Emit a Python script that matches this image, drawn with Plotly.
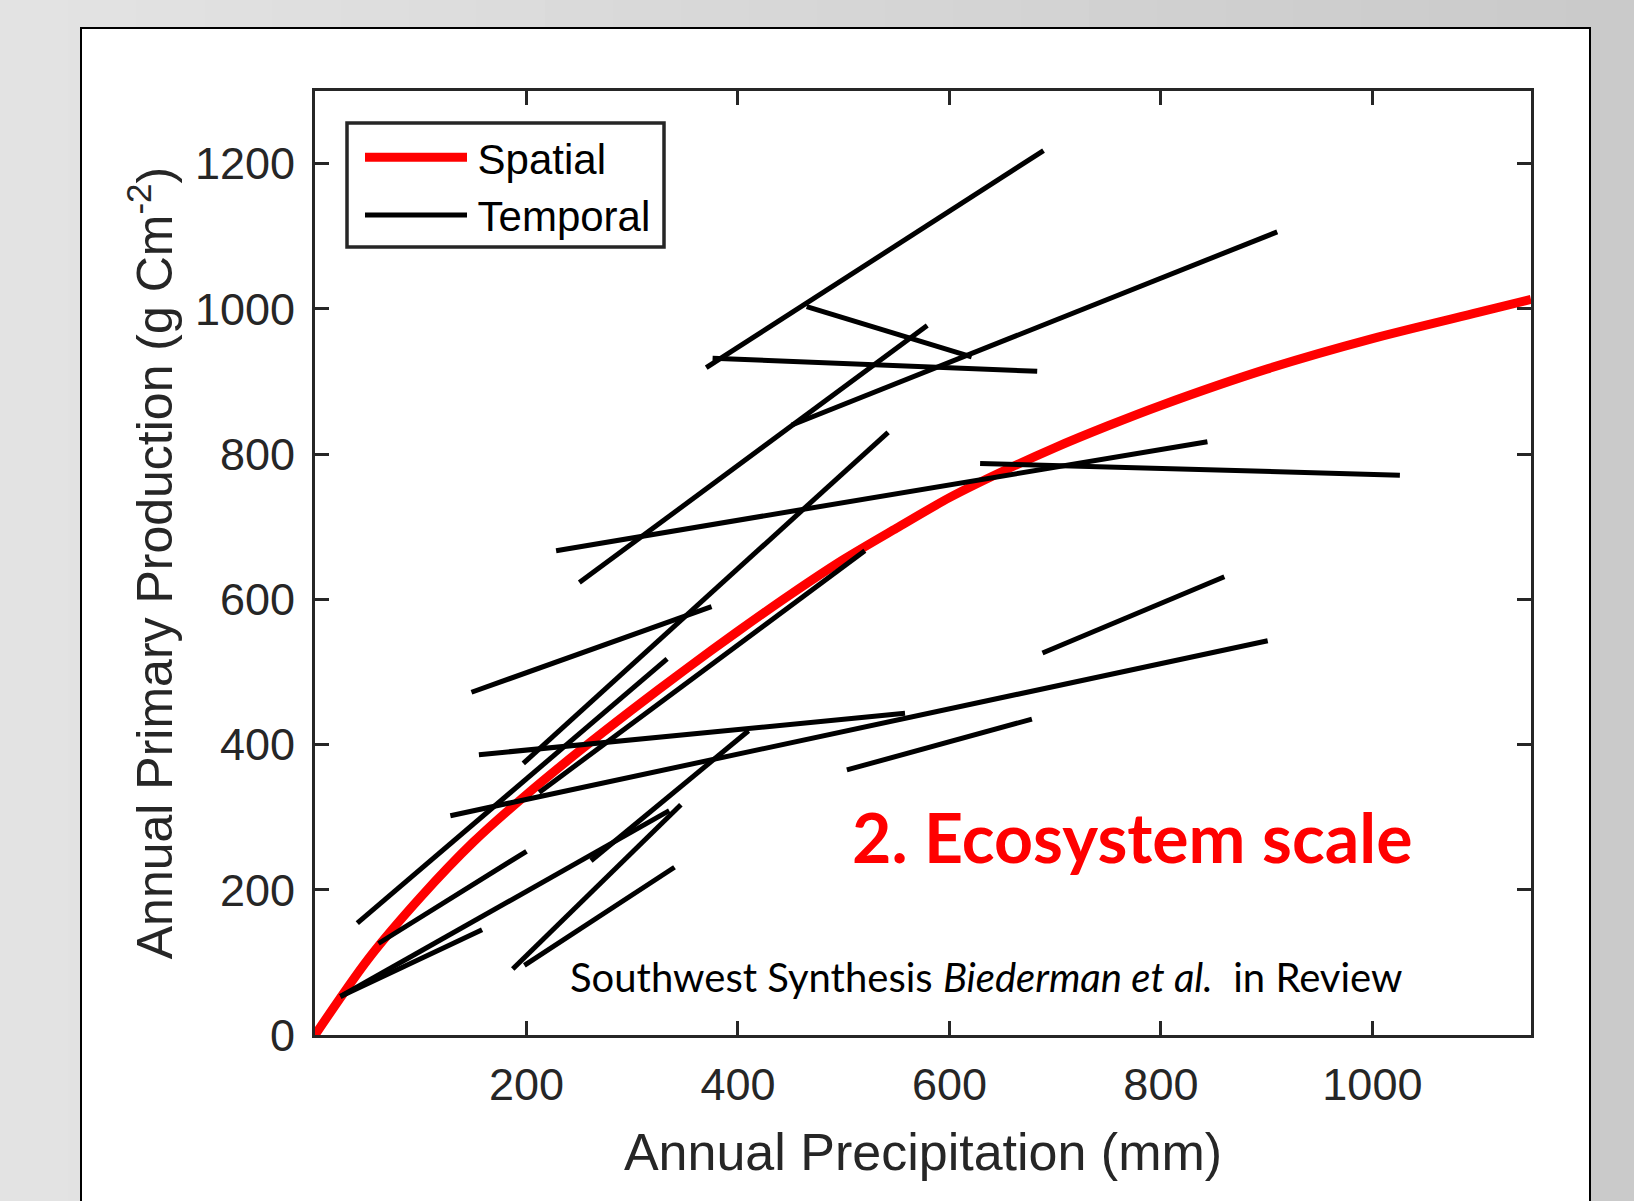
import plotly.graph_objects as go

# ---------------- data ----------------
# Spatial relationship (red curve)
spatial_x = [0, 50, 100, 150, 200, 250, 300, 350, 400, 450, 500, 550, 600, 650, 700, 750, 800, 900, 1000, 1100, 1150]
spatial_y = [0, 104, 190, 266, 331, 391, 448, 503, 556, 607, 655, 698, 740, 776, 809, 839, 867, 917, 959, 995, 1013]

# Temporal relationships (black segments): start / end points
temporal_x_start = [370, 465, 376, 451, 250, 197, 228, 629, 148, 40, 212, 155, 128, 261, 60, 24, 24, 187, 198, 688, 503]
temporal_y_start = [919, 1003, 932, 840, 623, 374, 667, 787, 472, 154, 334, 386, 302, 240, 126, 53, 53, 91, 96, 526, 365]
temporal_x_end = [689, 621, 683, 910, 579, 542, 844, 1026, 375, 333, 520, 558, 901, 410, 200, 158, 335, 346, 340, 860, 678]
temporal_y_end = [1218, 934, 914, 1106, 977, 830, 817, 771, 590, 518, 667, 443, 543, 419, 253, 145, 309, 317, 231, 631, 435]

x_ticks = [200, 400, 600, 800, 1000]
y_ticks = [0, 200, 400, 600, 800, 1000, 1200]

legend_names = ["Spatial", "Temporal"]

AX = "#262626"
ARIAL = "Arial, Liberation Sans, sans-serif"
TICKFONT = dict(family=ARIAL, size=45, color=AX)
PAD = "<span style='font-size:20px'> </span>"

fig = go.Figure()

fig.add_trace(go.Scatter(
    x=spatial_x, y=spatial_y, mode="lines", name=PAD + legend_names[0],
    line=dict(color="#ff0000", width=9, shape="spline", smoothing=0.8),
    legendgroup="spatial", showlegend=True, hoverinfo="skip"))

for i in range(len(temporal_x_start)):
    fig.add_trace(go.Scatter(
        x=[temporal_x_start[i], temporal_x_end[i]],
        y=[temporal_y_start[i], temporal_y_end[i]],
        mode="lines", name=PAD + legend_names[1],
        line=dict(color="#000000", width=5),
        legendgroup="temporal", showlegend=(i == 0), hoverinfo="skip"))

# ---------------- background / frames ----------------
W, H = 1634, 1201
plot_l, plot_r = 315, 1531
plot_t, plot_b = 91, 1035
pw = plot_r - plot_l
ph = plot_b - plot_t


def px_x(v):
    return (v - plot_l) / pw


def px_y(v):
    return (plot_b - v) / ph


shapes = []
n_strips = 24
for k in range(n_strips):
    x0p = k * W / n_strips
    x1p = (k + 1) * W / n_strips + 1
    g = int(round(0xe4 - (0xe4 - 0xc9) * (k + 0.5) / n_strips))
    shapes.append(dict(
        type="rect", xref="paper", yref="paper", layer="below",
        x0=px_x(x0p), x1=px_x(x1p), y0=px_y(H + 50), y1=px_y(-10),
        fillcolor=f"rgb({g},{g},{g})", line=dict(width=0)))
# white panel
shapes.append(dict(
    type="rect", xref="paper", yref="paper", layer="below",
    x0=px_x(81), x1=px_x(1590), y0=px_y(H + 50), y1=px_y(28),
    fillcolor="#ffffff", line=dict(color="#000000", width=2)))
# legend frame
shapes.append(dict(
    type="rect", xref="paper", yref="paper", layer="above",
    x0=px_x(347), x1=px_x(664), y0=px_y(247), y1=px_y(123),
    fillcolor="#ffffff", line=dict(color=AX, width=3.5)))

fig.update_layout(
    width=W, height=H,
    margin=dict(l=plot_l, r=W - plot_r, t=plot_t, b=H - plot_b),
    paper_bgcolor="#d9d9d9", plot_bgcolor="#ffffff",
    shapes=shapes,
    showlegend=True,
    legend=dict(
        x=px_x(360), y=px_y(123.5),
        xanchor="left", yanchor="top",
        bgcolor="rgba(0,0,0,0)", borderwidth=0,
        font=dict(family=ARIAL, size=42, color="#000000"),
        itemwidth=102, tracegroupgap=0),
    xaxis=dict(
        range=[0, 1150], tickmode="array", tickvals=x_ticks,
        ticks="inside", ticklen=14, tickwidth=3, tickcolor=AX,
        showline=True, linewidth=3, linecolor=AX, mirror="allticks",
        showgrid=False, zeroline=False, tickfont=TICKFONT,
        ticklabelstandoff=8,
        title=dict(text="Annual Precipitation (mm)",
                   font=dict(family=ARIAL, size=52, color=AX),
                   standoff=25)),
    yaxis=dict(
        range=[0, 1300], tickmode="array", tickvals=y_ticks,
        ticks="inside", ticklen=14, tickwidth=3, tickcolor=AX,
        showline=True, linewidth=3, linecolor=AX, mirror="allticks",
        showgrid=False, zeroline=False, tickfont=TICKFONT,
        ticklabelstandoff=8,
        title=dict(text="Annual Primary Production (g Cm<sup>-2</sup>)",
                   font=dict(family=ARIAL, size=50, color=AX),
                   standoff=7)),
    annotations=[
        dict(text="<b>2. Ecosystem scale</b>", x=773, y=273, xref="x", yref="y",
             xanchor="center", yanchor="middle", showarrow=False,
             font=dict(family="Lato, Open Sans, sans-serif", size=68, color="#ff0000")),
        dict(text="Southwest Synthesis <i>Biederman et al.</i>\u00a0 in Review",
             x=635, y=80, xref="x", yref="y",
             xanchor="center", yanchor="middle", showarrow=False,
             font=dict(family="Lato, Open Sans, sans-serif", size=40, color="#000000")),
    ],
)

fig.write_html("out.html")
